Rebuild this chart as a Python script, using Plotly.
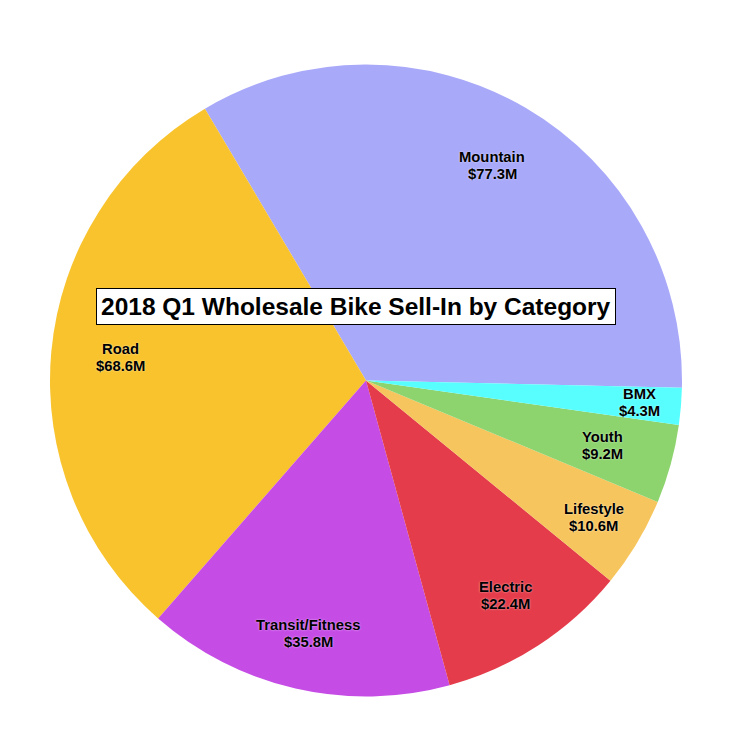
import math
import plotly.graph_objects as go

categories = ["Mountain", "Road", "Transit/Fitness", "Electric", "Lifestyle", "Youth", "BMX"]
values = [77.3, 68.6, 35.8, 22.4, 10.6, 9.2, 4.3]
value_labels = ["$77.3M", "$68.6M", "$35.8M", "$22.4M", "$10.6M", "$9.2M", "$4.3M"]
colors = ["#A9A9FA", "#F8C32C", "#C64CE6", "#E43C4A", "#F7C55E", "#8DD46E", "#58FEFE"]
title_text = "2018 Q1 Wholesale Bike Sell-In by Category"

# label distance from centre, as a fraction of the radius (styling)
label_radius = [0.79, 0.78, 0.82, 0.81, 0.84, 0.775, 0.87]

W, H = 742, 743
OFF = 8  # page body margin
cx, cy, R = 366 - OFF, 380.5 - OFF, 316
start_angle = 91.3  # where the first slice begins, degrees clockwise from 12 o'clock

total = sum(values)
# plotly's counterclockwise mode places the first slice ending at `rotation`
rotation = start_angle - 360 * values[0] / total

fig = go.Figure(go.Pie(
    labels=categories,
    values=values,
    sort=False,
    direction="counterclockwise",
    rotation=rotation,
    marker=dict(colors=colors, line=dict(width=0)),
    textinfo="none",
    hoverinfo="label+value",
    showlegend=False,
    domain=dict(x=[(cx - R) / W, (cx + R) / W], y=[1 - (cy + R) / H, 1 - (cy - R) / H]),
))

font_family = "Liberation Sans, Arial, sans-serif"
start = 90 - start_angle  # math angle (deg, ccw from east)
cum = 0.0
annotations = []
for cat, v, lab, frac in zip(categories, values, value_labels, label_radius):
    mid = start + 360 * (cum + v / 2) / total
    cum += v
    px = cx + frac * R * math.cos(math.radians(mid))
    py = cy - frac * R * math.sin(math.radians(mid))
    for txt, ys in ((cat, 8.5), (lab, -8.5)):
        annotations.append(dict(
            x=px / W, y=1 - py / H, xref="paper", yref="paper", yshift=ys,
            xanchor="center", yanchor="middle",
            text=f"<b>{txt}</b>", showarrow=False,
            font=dict(family=font_family, size=14.8, color="black",
                      shadow="0px 0px 2px rgba(255,255,255,0.7)"),
            align="center",
        ))

annotations.append(dict(
    x=(355.5 - OFF) / W, y=1 - (306.5 - OFF) / H, xref="paper", yref="paper",
    xanchor="center", yanchor="middle",
    text=f"<b>{title_text}</b>", showarrow=False,
    font=dict(family=font_family, size=24.5, color="black"),
    bgcolor="white", bordercolor="black", borderwidth=1, borderpad=4,
))

fig.update_layout(
    width=W, height=H,
    margin=dict(l=0, r=0, t=0, b=0),
    paper_bgcolor="white",
    plot_bgcolor="white",
    annotations=annotations,
)

fig.write_html("out.html")
